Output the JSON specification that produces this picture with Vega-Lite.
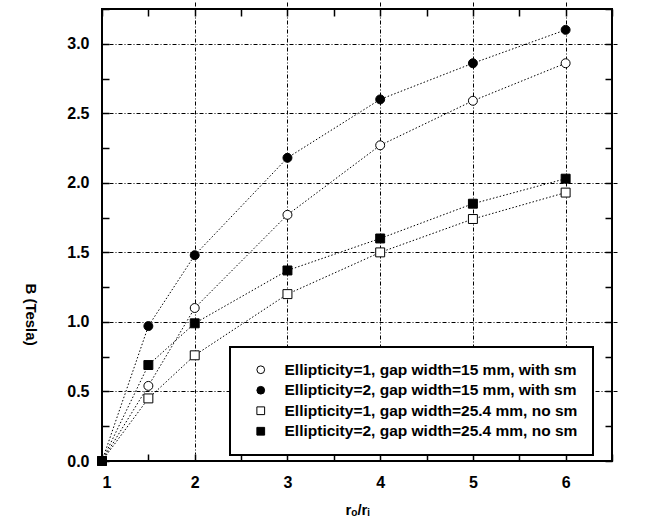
{
  "$schema": "https://vega.github.io/schema/vega-lite/v6.json",
  "autosize": "none",
  "width": 510,
  "height": 452,
  "padding": {"left": 102, "top": 9, "right": 33, "bottom": 70},
  "background": "white",
  "config": {
    "view": {"stroke": "black", "strokeWidth": 2},
    "font": "Liberation Sans",
    "legend": {"strokeWidth": 2},
    "axis": {
      "domain": false,
      "tickColor": "black",
      "tickWidth": 1.5,
      "tickSize": 7,
      "offset": -7,
      "labelFont": "Liberation Sans",
      "labelFontWeight": "bold",
      "labelFontSize": 16,
      "labelColor": "black",
      "titleFont": "Liberation Sans",
      "titleFontWeight": "bold",
      "titleFontSize": 15,
      "titleColor": "black",
      "gridColor": "black",
      "gridWidth": 1,
      "gridDash": [4, 2, 1, 2]
    }
  },
  "data": {
    "values": [
      {"series": "Ellipticity=1, gap width=15 mm, with sm", "r": 1, "B": 0},
      {"series": "Ellipticity=1, gap width=15 mm, with sm", "r": 1.5, "B": 0.54},
      {"series": "Ellipticity=1, gap width=15 mm, with sm", "r": 2, "B": 1.10},
      {"series": "Ellipticity=1, gap width=15 mm, with sm", "r": 3, "B": 1.77},
      {"series": "Ellipticity=1, gap width=15 mm, with sm", "r": 4, "B": 2.27},
      {"series": "Ellipticity=1, gap width=15 mm, with sm", "r": 5, "B": 2.59},
      {"series": "Ellipticity=1, gap width=15 mm, with sm", "r": 6, "B": 2.86},
      {"series": "Ellipticity=2, gap width=15 mm, with sm", "r": 1, "B": 0},
      {"series": "Ellipticity=2, gap width=15 mm, with sm", "r": 1.5, "B": 0.97},
      {"series": "Ellipticity=2, gap width=15 mm, with sm", "r": 2, "B": 1.48},
      {"series": "Ellipticity=2, gap width=15 mm, with sm", "r": 3, "B": 2.18},
      {"series": "Ellipticity=2, gap width=15 mm, with sm", "r": 4, "B": 2.60},
      {"series": "Ellipticity=2, gap width=15 mm, with sm", "r": 5, "B": 2.86},
      {"series": "Ellipticity=2, gap width=15 mm, with sm", "r": 6, "B": 3.10},
      {"series": "Ellipticity=1, gap width=25.4 mm, no sm", "r": 1, "B": 0},
      {"series": "Ellipticity=1, gap width=25.4 mm, no sm", "r": 1.5, "B": 0.45},
      {"series": "Ellipticity=1, gap width=25.4 mm, no sm", "r": 2, "B": 0.76},
      {"series": "Ellipticity=1, gap width=25.4 mm, no sm", "r": 3, "B": 1.20},
      {"series": "Ellipticity=1, gap width=25.4 mm, no sm", "r": 4, "B": 1.50},
      {"series": "Ellipticity=1, gap width=25.4 mm, no sm", "r": 5, "B": 1.74},
      {"series": "Ellipticity=1, gap width=25.4 mm, no sm", "r": 6, "B": 1.93},
      {"series": "Ellipticity=2, gap width=25.4 mm, no sm", "r": 1, "B": 0},
      {"series": "Ellipticity=2, gap width=25.4 mm, no sm", "r": 1.5, "B": 0.69},
      {"series": "Ellipticity=2, gap width=25.4 mm, no sm", "r": 2, "B": 0.99},
      {"series": "Ellipticity=2, gap width=25.4 mm, no sm", "r": 3, "B": 1.37},
      {"series": "Ellipticity=2, gap width=25.4 mm, no sm", "r": 4, "B": 1.60},
      {"series": "Ellipticity=2, gap width=25.4 mm, no sm", "r": 5, "B": 1.85},
      {"series": "Ellipticity=2, gap width=25.4 mm, no sm", "r": 6, "B": 2.03}
    ]
  },
  "layer": [
    {
      "encoding": {
        "x": {
          "field": "r", "type": "quantitative",
          "scale": {"domain": [1, 6.5], "nice": false, "zero": false},
          "axis": {
            "title": "rₒ/rᵢ",
            "values": [1, 1.5, 2, 2.5, 3, 3.5, 4, 4.5, 5, 5.5, 6, 6.5],
            "labelExpr": "datum.value % 1 == 0 ? format(datum.value, 'd') : ''",
            "labelPadding": 13,
            "titlePadding": 12,
            "gridOpacity": {"condition": {"test": "datum.value % 1 == 0 && datum.value > 1", "value": 1}, "value": 0}
          }
        },
        "y": {
          "field": "B", "type": "quantitative",
          "scale": {"domain": [0, 3.25], "nice": false},
          "axis": {
            "title": "B (Tesla)",
            "titleAngle": 90,
            "titleX": -87,
            "titleY": 305,
            "values": [0, 0.25, 0.5, 0.75, 1, 1.25, 1.5, 1.75, 2, 2.25, 2.5, 2.75, 3, 3.25],
            "labelExpr": "datum.value % 0.5 == 0 ? format(datum.value, '.1f') : ''",
            "labelPadding": 13,
            "gridOpacity": {"condition": {"test": "datum.value % 0.5 == 0 && datum.value > 0", "value": 1}, "value": 0}
          }
        }
      },
      "layer": [
        {
          "mark": {"type": "line", "color": "black", "strokeWidth": 1, "strokeDash": [1.5, 2]},
          "encoding": {"detail": {"field": "series", "type": "nominal"}}
        },
        {
          "mark": {"type": "point", "strokeWidth": 1, "opacity": 1, "fillOpacity": 1, "strokeOpacity": 1, "size": 80},
          "encoding": {
            "shape": {
              "field": "series", "type": "nominal",
              "scale": {
                "domain": ["Ellipticity=1, gap width=15 mm, with sm", "Ellipticity=2, gap width=15 mm, with sm", "Ellipticity=1, gap width=25.4 mm, no sm", "Ellipticity=2, gap width=25.4 mm, no sm"],
                "range": ["circle", "circle", "square", "square"]
              },
              "legend": {
                "title": null,
                "orient": "none",
                "legendX": 128,
                "legendY": 338,
                "strokeColor": "black",
                "fillColor": "white",
                "padding": 15,
                "labelFont": "Liberation Sans",
                "labelFontWeight": "bold",
                "labelFontSize": 15.5,
                "labelColor": "black",
                "labelLimit": 400,
                "symbolSize": 60,
                "symbolStrokeColor": "black",
                "symbolStrokeWidth": 1,
                "rowPadding": 3.5,
                "labelOffset": 16,
                "symbolOffset": 8
              }
            },
            "fill": {
              "field": "series", "type": "nominal",
              "scale": {
                "domain": ["Ellipticity=1, gap width=15 mm, with sm", "Ellipticity=2, gap width=15 mm, with sm", "Ellipticity=1, gap width=25.4 mm, no sm", "Ellipticity=2, gap width=25.4 mm, no sm"],
                "range": ["white", "black", "white", "black"]
              },
              "legend": null
            },
            "stroke": {
              "field": "series", "type": "nominal",
              "scale": {
                "domain": ["Ellipticity=1, gap width=15 mm, with sm", "Ellipticity=2, gap width=15 mm, with sm", "Ellipticity=1, gap width=25.4 mm, no sm", "Ellipticity=2, gap width=25.4 mm, no sm"],
                "range": ["black", "black", "black", "black"]
              },
              "legend": null
            }
          }
        }
      ]
    },
    {
      "mark": {"type": "point", "opacity": 0},
      "encoding": {
        "x": {
          "field": "r", "type": "quantitative",
          "scale": {"domain": [1, 6.5], "nice": false, "zero": false},
          "axis": {
            "orient": "top", "title": null, "labels": false, "grid": false,
            "values": [1, 1.5, 2, 2.5, 3, 3.5, 4, 4.5, 5, 5.5, 6, 6.5]
          }
        },
        "y": {
          "field": "B", "type": "quantitative",
          "scale": {"domain": [0, 3.25], "nice": false},
          "axis": {
            "orient": "right", "title": null, "labels": false, "grid": false,
            "values": [0, 0.25, 0.5, 0.75, 1, 1.25, 1.5, 1.75, 2, 2.25, 2.5, 2.75, 3, 3.25]
          }
        }
      }
    }
  ],
  "resolve": {"scale": {"x": "independent", "y": "independent"}}
}
